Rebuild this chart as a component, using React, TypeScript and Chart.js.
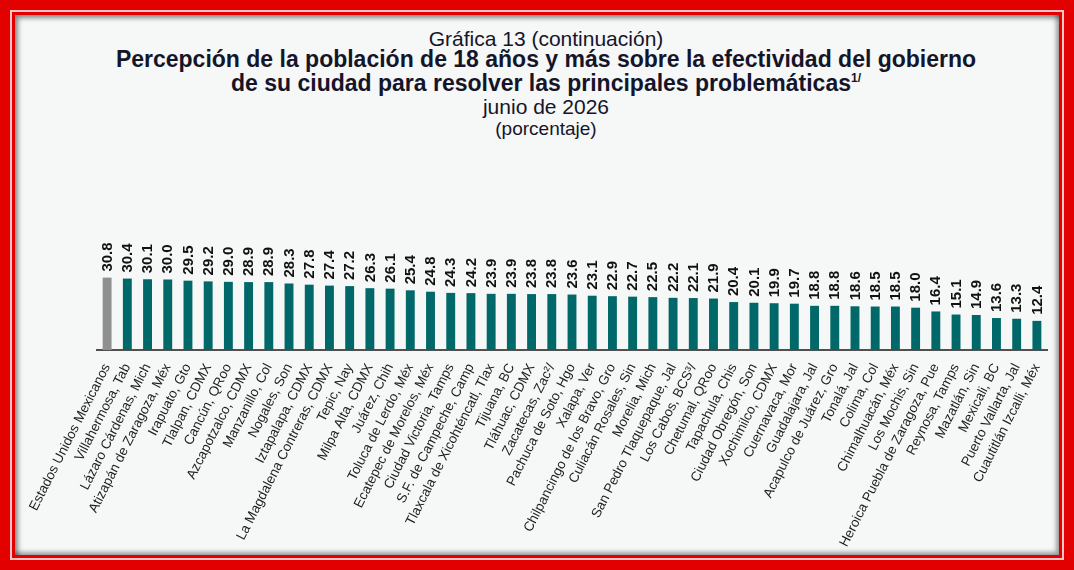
import React, { useEffect, useRef } from "react";
import { Chart, registerables } from "chart.js";

Chart.register(...registerables);

const categories: string[] = [
  "Estados Unidos Mexicanos",
  "Villahermosa, Tab",
  "Lázaro Cárdenas, Mich",
  "Atizapán de Zaragoza, Méx",
  "Irapuato, Gto",
  "Tlalpan, CDMX",
  "Cancún, QRoo",
  "Azcapotzalco, CDMX",
  "Manzanillo, Col",
  "Nogales, Son",
  "Iztapalapa, CDMX",
  "La Magdalena Contreras, CDMX",
  "Tepic, Nay",
  "Milpa Alta, CDMX",
  "Juárez, Chih",
  "Toluca de Lerdo, Méx",
  "Ecatepec de Morelos, Méx",
  "Ciudad Victoria, Tamps",
  "S.F. de Campeche, Camp",
  "Tlaxcala de Xicohténcatl, Tlax",
  "Tijuana, BC",
  "Tláhuac, CDMX",
  "Zacatecas, Zac²/",
  "Pachuca de Soto, Hgo",
  "Xalapa, Ver",
  "Chilpancingo de los Bravo, Gro",
  "Culiacán Rosales, Sin",
  "Morelia, Mich",
  "San Pedro Tlaquepaque, Jal",
  "Los Cabos, BCS³/",
  "Chetumal, QRoo",
  "Tapachula, Chis",
  "Ciudad Obregón, Son",
  "Xochimilco, CDMX",
  "Cuernavaca, Mor",
  "Guadalajara, Jal",
  "Acapulco de Juárez, Gro",
  "Tonalá, Jal",
  "Colima, Col",
  "Chimalhuacán, Méx",
  "Los Mochis, Sin",
  "Heroica Puebla de Zaragoza, Pue",
  "Reynosa, Tamps",
  "Mazatlán, Sin",
  "Mexicali, BC",
  "Puerto Vallarta, Jal",
  "Cuautitlán Izcalli, Méx",
];

const values: number[] = [
  30.8, 30.4, 30.1, 30.0, 29.5, 29.2, 29.0, 28.9, 28.9, 28.3, 27.8, 27.4,
  27.2, 26.3, 26.1, 25.4, 24.8, 24.3, 24.2, 23.9, 23.9, 23.8, 23.8, 23.6,
  23.1, 22.9, 22.7, 22.5, 22.2, 22.1, 21.9, 20.4, 20.1, 19.9, 19.7, 18.8,
  18.8, 18.6, 18.5, 18.5, 18.0, 16.4, 15.1, 14.9, 13.6, 13.3, 12.4,
];

const titleSmall = "Gráfica 13 (continuación)";
const titleBold1 = "Percepción de la población de 18 años y más sobre la efectividad del gobierno";
const titleBold2 = "de su ciudad para resolver las principales problemáticas";
const titleNote = "1/";
const subtitleDate = "junio de 2026";
const subtitleUnit = "(porcentaje)";

const FONT = '"Liberation Sans", Arial, Helvetica, sans-serif';
const TEAL = "#006868";
const GREY = "#8f8f8f";
const TEXT = "#15152a";

const valueLabelPlugin = {
  id: "valueLabels",
  afterDatasetsDraw(chart: any) {
    const ctx = chart.ctx;
    const meta = chart.getDatasetMeta(0);
    const data = chart.data.datasets[0].data as number[];
    ctx.save();
    ctx.font = `bold 15px ${FONT}`;
    ctx.fillStyle = "#111";
    ctx.textAlign = "left";
    ctx.textBaseline = "middle";
    meta.data.forEach((bar: any, i: number) => {
      ctx.save();
      ctx.translate(bar.x + 0.5, bar.y - 6);
      ctx.rotate(-Math.PI / 2);
      ctx.fillText(data[i].toFixed(1), 0, 0);
      ctx.restore();
    });
    ctx.restore();
  },
};

function BarChart() {
  const ref = useRef<HTMLCanvasElement | null>(null);
  useEffect(() => {
    if (!ref.current) return;
    const chart = new Chart(ref.current, {
      type: "bar",
      data: {
        labels: categories,
        datasets: [
          {
            data: values,
            backgroundColor: values.map((_, i) => (i === 0 ? GREY : TEAL)),
            barPercentage: 0.44,
            categoryPercentage: 1,
          },
        ],
      },
      options: {
        animation: false,
        responsive: false,
        maintainAspectRatio: false,
        layout: { padding: { left: 97, right: 27, top: 256, bottom: 0 } },
        plugins: {
          legend: { display: false },
          tooltip: { enabled: false },
          title: { display: false },
        },
        scales: {
          x: {
            offset: true,
            grid: { display: false, drawTicks: false },
            border: { display: true, color: "#505050", width: 2 },
            ticks: {
              autoSkip: false,
              minRotation: 63,
              maxRotation: 63,
              padding: 11,
              color: "#1e1e1e",
              font: { family: FONT, size: 13.5 },
            },
            afterFit: (scale: any) => {
              scale.height = 220;
            },
          },
          y: {
            display: false,
            min: 0,
            max: 40,
          },
        },
      },
      plugins: [valueLabelPlugin],
    });
    return () => chart.destroy();
  }, []);
  return (
    <canvas
      ref={ref}
      width={1074}
      height={570}
      style={{ position: "absolute", left: 0, top: 0, width: 1074, height: 570 }}
    />
  );
}

export default function App() {
  const line = (top: number, size: number, bold: boolean): React.CSSProperties => ({
    position: "absolute",
    left: 9,
    top,
    width: 1074,
    textAlign: "center",
    fontFamily: FONT,
    fontSize: size,
    fontWeight: bold ? 700 : 400,
    lineHeight: "22px",
    color: TEXT,
    whiteSpace: "nowrap",
  });
  return (
    <div
      style={{
        position: "absolute",
        left: 0,
        top: 0,
        width: 1074,
        height: 570,
        background: "#e20000",
        overflow: "hidden",
      }}
    >
      <div
        style={{
          position: "absolute",
          left: 10,
          top: 10,
          width: 1054,
          height: 550,
          boxSizing: "border-box",
          border: "2px solid #ffc4c4",
          background: "#e20000",
        }}
      />
      <div
        style={{
          position: "absolute",
          left: 15,
          top: 15,
          width: 1044,
          height: 540,
          background: "#f6f7f7",
          boxShadow:
            "inset 3px 3px 5px rgba(0,0,0,0.45), inset -3px -3px 4px rgba(0,0,0,0.35)",
        }}
      />
      <div style={line(28, 21, false)}>{titleSmall}</div>
      <div style={line(48, 23, true)}>{titleBold1}</div>
      <div style={line(72, 23, true)}>
        {titleBold2}
        <sup style={{ fontSize: 12, verticalAlign: "top", position: "relative", top: -5 }}>
          {titleNote}
        </sup>
      </div>
      <div style={line(96, 21, false)}>{subtitleDate}</div>
      <div style={line(118, 19, false)}>{subtitleUnit}</div>
      <BarChart />
    </div>
  );
}
